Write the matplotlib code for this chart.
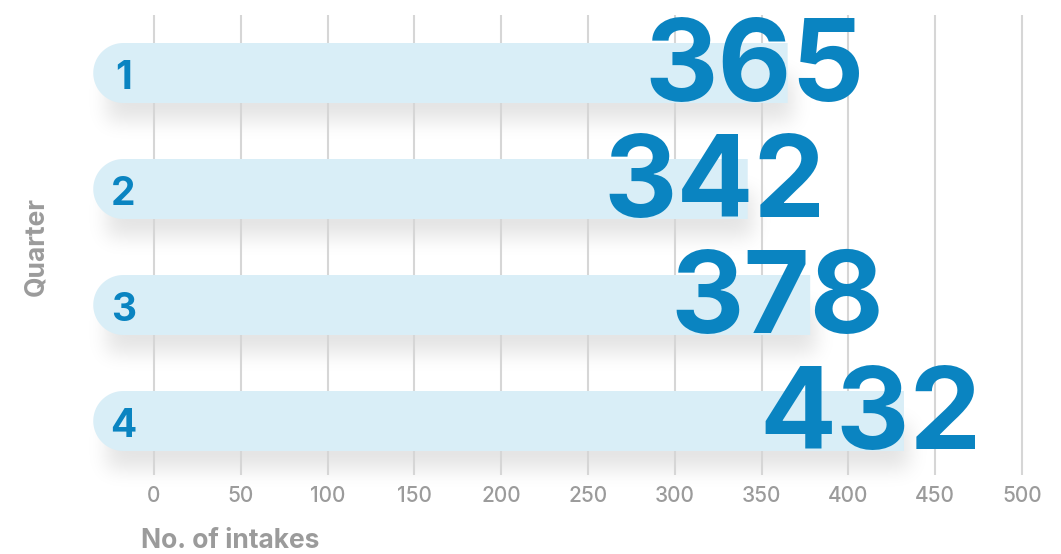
import matplotlib
matplotlib.use("Agg")
import numpy as np
import matplotlib.pyplot as plt
from matplotlib.path import Path
from matplotlib.patches import PathPatch

plt.rcParams["font.family"] = ["Inter", "DejaVu Sans"]

# data
quarters = ["1", "2", "3", "4"]
intakes = [365, 342, 378, 432]
x_ticks = [0, 50, 100, 150, 200, 250, 300, 350, 400, 450, 500]

# colours
bar_color = "#d9eef7"
blue = "#0a84c1"
grey_text = "#9b9b9b"
grid_color = "#d6d6d6"

W, H, DPI = 1061, 554, 100
fig = plt.figure(figsize=(W / DPI, H / DPI), dpi=DPI)
ax = fig.add_axes([0, (H - 475) / H, 1, 460 / H])

# pixel <-> data scales
px_x = 1.736      # px per x unit
px_y = 116.0      # px per category
ax.set_xlim(-154 / px_x, (W - 154) / px_x)
ax.set_ylim((475 - 73) / px_y, (15 - 73) / px_y)

bar_h_px = 60
bar_h = bar_h_px / px_y
r_x = (bar_h_px / 2) / px_x          # corner radius in x units
x_start = -35                        # rounded left end starts left of 0
cx = x_start + r_x


def bar_path(y, x_end):
    # left end is a half circle, right end square
    a = np.linspace(np.pi / 2, 3 * np.pi / 2, 40)
    xs = list(cx + r_x * np.cos(a)) + [x_end, x_end]
    ys = list(y - bar_h / 2 * np.sin(a)) + [y + bar_h / 2, y - bar_h / 2]
    return Path(np.column_stack([xs, ys]), closed=False)


def blur(img, sigma):
    k = np.arange(-3 * sigma, 3 * sigma + 1)
    g = np.exp(-k ** 2 / (2 * sigma ** 2))
    g /= g.sum()
    img = np.apply_along_axis(lambda r: np.convolve(r, g, mode="same"), 1, img)
    img = np.apply_along_axis(lambda c: np.convolve(c, g, mode="same"), 0, img)
    return img


# soft drop shadow below each bar, built in pixel space, drawn under the axes
mask = np.zeros((H, W))
for i, v in enumerate(intakes):
    x0, y0 = ax.transData.transform((x_start + 8, i))
    x1, _ = ax.transData.transform((v, i))
    top = int(H - y0 + 2)
    mask[top:top + 46, int(x0):int(x1) + 6] = 1.0
shadow = blur(mask, 10) * 0.11
rgba = np.zeros((H, W, 4))
rgba[..., 3] = shadow
fig.figimage(rgba, origin="upper", zorder=-1)

for i, (q, v) in enumerate(zip(quarters, intakes)):
    ax.add_patch(PathPatch(bar_path(i, v), facecolor=bar_color,
                           edgecolor="none", zorder=2))

    ax.text(cx, i + 16 / px_y, q, color=blue, fontsize=28, fontweight="bold",
            ha="center", va="baseline", zorder=4)

    ax.annotate(str(v), xy=(v, i), xytext=(-33 * 72 / DPI, -28 * 72 / DPI),
                textcoords="offset points", ha="center", va="baseline",
                color=blue, fontsize=82, fontweight="bold", zorder=5)

for t in x_ticks:
    ax.axvline(t, color=grid_color, linewidth=1.5, zorder=1)

ax.set_xticks(x_ticks)
ax.set_xticklabels([str(t) for t in x_ticks], color=grey_text, fontsize=15,
                   fontweight="medium")
ax.set_yticks([])
ax.tick_params(axis="x", length=0, pad=8)
ax.patch.set_alpha(0)
for s in ax.spines.values():
    s.set_visible(False)

fig.text(141 / W, 1 - 541 / H, "No. of intakes", color=grey_text, fontsize=19,
         fontweight="bold", ha="left", va="center")
fig.text(36 / W, 1 - 246 / H, "Quarter", color=grey_text, fontsize=19,
         fontweight="bold", ha="center", va="center", rotation=90)

fig.savefig("out.png", dpi=DPI)
